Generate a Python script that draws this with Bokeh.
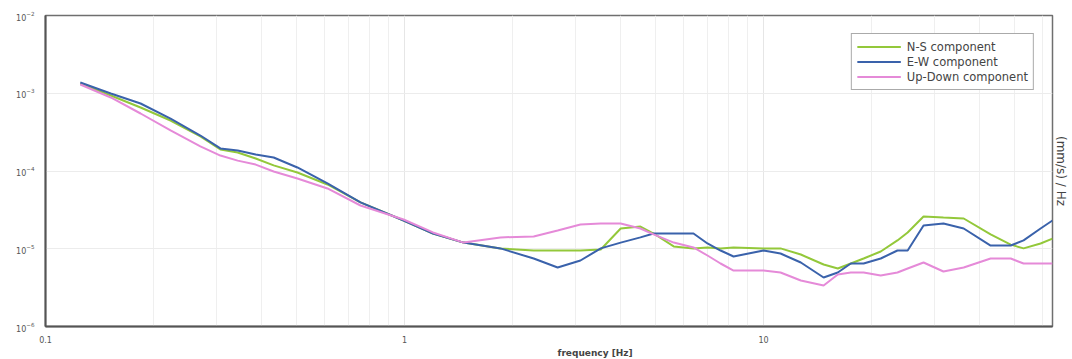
from bokeh.plotting import figure
from bokeh.models import (LogAxis, FixedTicker, CustomJSTickFormatter, Title, Legend, LegendItem)
from bokeh.embed import file_html
from bokeh.resources import INLINE

# frequency [Hz]
freq = [0.125, 0.152, 0.184, 0.223, 0.270, 0.307, 0.343, 0.385, 0.432, 0.503,
        0.610, 0.754, 0.994, 1.20, 1.46, 1.85, 2.29, 2.67, 3.09, 3.52,
        4.00, 4.54, 4.94, 5.62, 6.38, 6.98, 7.59, 8.25, 10.0, 11.15,
        12.7, 14.7, 16.1, 17.5, 19.0, 21.2, 23.6, 25.2, 27.9, 31.7,
        36.1, 42.9, 48.8, 53.0, 59.1, 63.8]

ns_component = [1.335e-3, 9.36e-4, 6.56e-4, 4.46e-4, 2.78e-4, 1.89e-4, 1.73e-4, 1.45e-4, 1.18e-4, 9.56e-5,
                6.71e-5, 3.94e-5, 2.31e-5, 1.57e-5, 1.20e-5, 1.01e-5, 9.49e-6, 9.49e-6, 9.49e-6, 9.78e-6,
                1.82e-5, 1.93e-5, 1.57e-5, 1.07e-5, 1.01e-5, 1.04e-5, 1.01e-5, 1.04e-5, 1.01e-5, 1.01e-5,
                8.43e-6, 6.27e-6, 5.57e-6, 6.46e-6, 7.49e-6, 9.22e-6, 1.28e-5, 1.62e-5, 2.60e-5, 2.52e-5,
                2.45e-5, 1.53e-5, 1.13e-5, 1.01e-5, 1.17e-5, 1.35e-5]

ew_component = [1.375e-3, 9.93e-4, 7.38e-4, 4.73e-4, 2.86e-4, 1.95e-4, 1.84e-4, 1.63e-4, 1.49e-4, 1.11e-4,
                6.91e-5, 3.94e-5, 2.31e-5, 1.57e-5, 1.20e-5, 1.01e-5, 7.49e-6, 5.74e-6, 7.06e-6, 1.01e-5,
                1.20e-5, 1.40e-5, 1.57e-5, 1.57e-5, 1.57e-5, 1.17e-5, 9.49e-6, 7.95e-6, 9.49e-6, 8.69e-6,
                6.65e-6, 4.27e-6, 4.95e-6, 6.46e-6, 6.46e-6, 7.49e-6, 9.49e-6, 9.49e-6, 1.99e-5, 2.11e-5,
                1.82e-5, 1.10e-5, 1.10e-5, 1.28e-5, 1.82e-5, 2.31e-5]

ud_component = [1.296e-3, 8.82e-4, 5.49e-4, 3.32e-4, 2.07e-4, 1.58e-4, 1.36e-4, 1.21e-4, 9.85e-5, 8.01e-5,
                5.96e-5, 3.60e-5, 2.38e-5, 1.62e-5, 1.20e-5, 1.40e-5, 1.44e-5, 1.72e-5, 2.05e-5, 2.11e-5,
                2.11e-5, 1.82e-5, 1.53e-5, 1.20e-5, 1.04e-5, 8.19e-6, 6.46e-6, 5.25e-6, 5.25e-6, 4.95e-6,
                3.90e-6, 3.37e-6, 4.66e-6, 4.95e-6, 4.95e-6, 4.53e-6, 4.95e-6, 5.57e-6, 6.65e-6, 5.10e-6,
                5.74e-6, 7.49e-6, 7.49e-6, 6.46e-6, 6.46e-6, 6.46e-6]

series_names = ["N-S component", "E-W component", "Up-Down component"]
series_colors = ["#93c83a", "#3a62ab", "#e58ad8"]

x_ticks = [0.1, 1, 10]
y_ticks = [1e-6, 1e-5, 1e-4, 1e-3, 1e-2]

FONT = "DejaVu Sans"

p = figure(width=1072, height=359, x_axis_type="log", y_axis_type="log",
           x_range=(0.1, 63.8), y_range=(1e-6, 1e-2),
           output_backend="svg", toolbar_location=None,
           min_border_left=45, min_border_right=20, min_border_top=15, min_border_bottom=33)
p.background_fill_color = "white"
p.border_fill_color = "white"
p.outline_line_color = "#6f6f6f"
p.outline_line_width = 1.5

# grids
p.xgrid.grid_line_color = "#e6e6e6"
p.xgrid.minor_grid_line_color = "#efefef"
p.ygrid.grid_line_color = "#ececec"

# x axis
p.xaxis.ticker = FixedTicker(ticks=x_ticks, minor_ticks=[m * d for d in [0.1, 1, 10] for m in range(2, 10)])
p.xaxis.formatter = CustomJSTickFormatter(code="return String(Number(tick.toPrecision(6)));")
for ax in (p.xaxis, p.yaxis):
    ax.axis_line_color = "#555555"
    ax.axis_line_width = 2
    ax.major_tick_line_color = None
    ax.minor_tick_line_color = None
    ax.major_label_text_font = FONT
    ax.major_label_text_font_size = "8px"
    ax.major_label_text_color = "#555555"
p.xaxis.major_label_standoff = 3
p.yaxis.ticker = FixedTicker(ticks=y_ticks)
p.yaxis.major_label_standoff = 5

# x-axis title as a below Title so that it sits where the reference has it
p.add_layout(Title(text="frequency [Hz]", align="left", offset=512, standoff=0,
                   text_font=FONT, text_font_size="9px", text_font_style="bold",
                   text_color="#444444"), "below")

# right-side unit label
right_axis = LogAxis(ticker=FixedTicker(ticks=[]), axis_line_color=None,
                     axis_label="(mm/s) / Hz", axis_label_text_font=FONT,
                     axis_label_text_font_size="12px", axis_label_text_font_style="normal",
                     axis_label_text_color="#444444", axis_label_standoff=1,
                     major_tick_line_color=None, minor_tick_line_color=None)
p.add_layout(right_axis, "right")

renderers = []
for vals, col in zip([ns_component, ew_component, ud_component], series_colors):
    r = p.line(freq, vals, line_color=col, line_width=2)
    renderers.append(r)

legend = Legend(items=[LegendItem(label=n, renderers=[r]) for n, r in zip(series_names, renderers)],
                location="top_right", margin=18, padding=5, spacing=0,
                glyph_width=44, glyph_height=15, label_height=15, label_standoff=6,
                label_text_font=FONT, label_text_font_size="11.5px", label_text_color="#444444",
                border_line_color="#555555", border_line_width=1, background_fill_alpha=1)
p.add_layout(legend, "center")

open("out.html", "w").write(file_html(p, INLINE))
